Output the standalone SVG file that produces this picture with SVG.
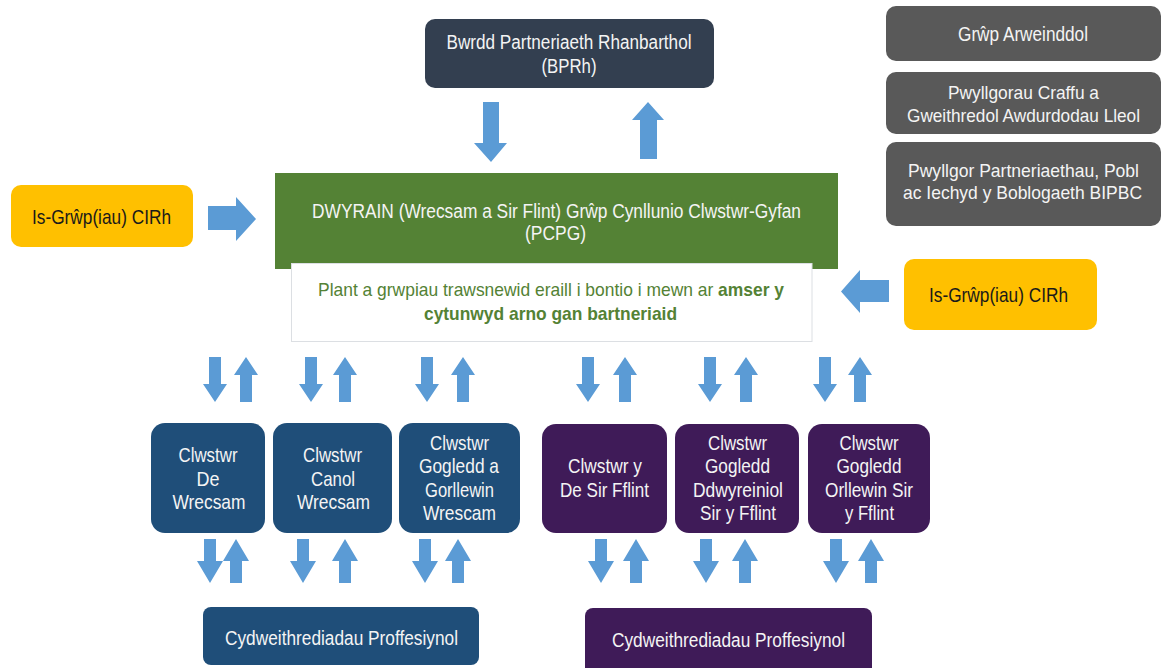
<svg xmlns="http://www.w3.org/2000/svg" xmlns:xlink="http://www.w3.org/1999/xlink" width="1169" height="668" viewBox="0 0 1169 668">
<style>
text{font-family:"Liberation Sans Narrow","Liberation Sans",Arial,sans-serif;text-anchor:middle}
.w{fill:#f4f4f4;font-size:20px}
.s{fill:#f4f4f4;font-size:18.5px}
.c{fill:#f4f4f4;font-size:21px}
.y{fill:#1a1a1a;font-size:21px}
.g{fill:#548235;font-size:19px}
.b{font-weight:bold}
.arrow{fill:#5b9bd5}
.navy{fill:#333f50}
.gray{fill:#595959}
.yel{fill:#ffc000}
.blue{fill:#1f4e79}
.purp{fill:#3f1b58}
</style>
<defs>
<path id="dn" d="M6,0H18V27H24L12,45L0,27H6Z"/>
<path id="up" d="M12,0L24,18H18V45H6V18H0Z"/>
<path id="dn2" d="M7,0H19V22H26L13,44L0,22H7Z"/>
<path id="up2" d="M13,0L26,22H19V44H7V22H0Z"/>
</defs>
<rect width="1169" height="668" fill="#ffffff"/>

<g id="connectors" class="arrow">
<path d="M483,102H499V143H507L491,162L474,143H483Z"/>
<path d="M648,102L664,120H657V159H640V120H632Z"/>
<path d="M208,206H236V197L256,219L236,241V230H208Z"/>
<path d="M889,280H860V270L841,291.5L860,313V302H889Z"/>
<use xlink:href="#dn" x="203" y="357"/><use xlink:href="#up" x="234" y="357"/>
<use xlink:href="#dn" x="299" y="357"/><use xlink:href="#up" x="333" y="357"/>
<use xlink:href="#dn" x="415" y="357"/><use xlink:href="#up" x="451" y="357"/>
<use xlink:href="#dn" x="576" y="357"/><use xlink:href="#up" x="613" y="357"/>
<use xlink:href="#dn" x="698" y="357"/><use xlink:href="#up" x="734" y="357"/>
<use xlink:href="#dn" x="813" y="357"/><use xlink:href="#up" x="848" y="357"/>
<use xlink:href="#dn2" x="197" y="539"/><use xlink:href="#up2" x="223" y="539"/>
<use xlink:href="#dn2" x="290" y="539"/><use xlink:href="#up2" x="332" y="539"/>
<use xlink:href="#dn2" x="412" y="539"/><use xlink:href="#up2" x="445" y="539"/>
<use xlink:href="#dn2" x="588" y="539"/><use xlink:href="#up2" x="623" y="539"/>
<use xlink:href="#dn2" x="693" y="539"/><use xlink:href="#up2" x="732" y="539"/>
<use xlink:href="#dn2" x="823" y="539"/><use xlink:href="#up2" x="858" y="539"/>
</g>

<g id="bprh">
<rect class="navy" x="425" y="19" width="289" height="69" rx="10"/>
<text class="w" x="569" y="49" textLength="245" lengthAdjust="spacingAndGlyphs">Bwrdd Partneriaeth Rhanbarthol</text>
<text class="w" x="569" y="73" textLength="55" lengthAdjust="spacingAndGlyphs">(BPRh)</text>
</g>

<g id="grwp-arweinddol">
<rect class="gray" x="886" y="6" width="275" height="55" rx="10"/>
<text class="w" x="1023" y="41" textLength="130" lengthAdjust="spacingAndGlyphs">Grŵp Arweinddol</text>
</g>
<g id="pwyllgorau-craffu">
<rect class="gray" x="886" y="72" width="275" height="62" rx="10"/>
<text class="s" x="1023.5" y="99" textLength="151" lengthAdjust="spacingAndGlyphs">Pwyllgorau Craffu a</text>
<text class="s" x="1023.5" y="122" textLength="233" lengthAdjust="spacingAndGlyphs">Gweithredol Awdurdodau Lleol</text>
</g>
<g id="pwyllgor-partneriaethau">
<rect class="gray" x="886" y="142" width="275" height="84" rx="10"/>
<text class="s" x="1023.5" y="177" textLength="231" lengthAdjust="spacingAndGlyphs">Pwyllgor Partneriaethau, Pobl</text>
<text class="s" x="1022.5" y="199" textLength="239" lengthAdjust="spacingAndGlyphs">ac Iechyd y Boblogaeth BIPBC</text>
</g>

<g id="is-grwp-left">
<rect class="yel" x="11" y="185" width="182" height="62" rx="10"/>
<text class="y" x="101.5" y="224" textLength="139" lengthAdjust="spacingAndGlyphs">Is-Grŵp(iau) CIRh</text>
</g>
<g id="is-grwp-right">
<rect class="yel" x="904" y="259" width="193" height="71" rx="10"/>
<text class="y" x="998.5" y="302" textLength="139" lengthAdjust="spacingAndGlyphs">Is-Grŵp(iau) CIRh</text>
</g>

<g id="pcpg">
<rect fill="#548235" x="275" y="173" width="563" height="96"/>
<text class="w" x="556.5" y="218" textLength="489" lengthAdjust="spacingAndGlyphs">DWYRAIN (Wrecsam a Sir Flint) Grŵp Cynllunio Clwstwr-Gyfan</text>
<text class="w" x="555.5" y="240" textLength="61" lengthAdjust="spacingAndGlyphs">(PCPG)</text>
</g>
<g id="plant">
<rect fill="#ffffff" stroke="#dcdfe3" stroke-width="1" x="291.5" y="263.5" width="520.5" height="78"/>
<text class="g" x="551" y="296" textLength="466" lengthAdjust="spacingAndGlyphs">Plant a grwpiau trawsnewid eraill i bontio i mewn ar <tspan class="b">amser y</tspan></text>
<text class="g b" x="550.5" y="320" textLength="253" lengthAdjust="spacingAndGlyphs">cytunwyd arno gan bartneriaid</text>
</g>

<g id="de-wrecsam">
<rect class="blue" x="151" y="423" width="114" height="110" rx="14"/>
<text class="c" x="208" y="462" textLength="59" lengthAdjust="spacingAndGlyphs">Clwstwr</text>
<text class="c" x="208" y="486" textLength="23" lengthAdjust="spacingAndGlyphs">De</text>
<text class="c" x="209" y="509" textLength="73" lengthAdjust="spacingAndGlyphs">Wrecsam</text>
</g>
<g id="canol-wrecsam">
<rect class="blue" x="273" y="423" width="119" height="110" rx="14"/>
<text class="c" x="332.5" y="462" textLength="59" lengthAdjust="spacingAndGlyphs">Clwstwr</text>
<text class="c" x="333" y="486" textLength="44" lengthAdjust="spacingAndGlyphs">Canol</text>
<text class="c" x="333.5" y="509" textLength="73" lengthAdjust="spacingAndGlyphs">Wrecsam</text>
</g>
<g id="gogledd-gorllewin-wrecsam">
<rect class="blue" x="399" y="423" width="121" height="110" rx="14"/>
<text class="c" x="459.5" y="450" textLength="59" lengthAdjust="spacingAndGlyphs">Clwstwr</text>
<text class="c" x="459" y="473" textLength="80" lengthAdjust="spacingAndGlyphs">Gogledd a</text>
<text class="c" x="459.5" y="497" textLength="69" lengthAdjust="spacingAndGlyphs">Gorllewin</text>
<text class="c" x="459.5" y="520" textLength="73" lengthAdjust="spacingAndGlyphs">Wrescam</text>
</g>
<g id="de-sir-fflint">
<rect class="purp" x="542" y="424" width="125" height="109" rx="14"/>
<text class="c" x="605" y="473" textLength="74" lengthAdjust="spacingAndGlyphs">Clwstwr y</text>
<text class="c" x="604.5" y="497" textLength="89" lengthAdjust="spacingAndGlyphs">De Sir Fflint</text>
</g>
<g id="gogledd-ddwyreiniol">
<rect class="purp" x="675" y="424" width="124" height="109" rx="14"/>
<text class="c" x="737.5" y="450" textLength="59" lengthAdjust="spacingAndGlyphs">Clwstwr</text>
<text class="c" x="737.5" y="473" textLength="65" lengthAdjust="spacingAndGlyphs">Gogledd</text>
<text class="c" x="738" y="497" textLength="90" lengthAdjust="spacingAndGlyphs">Ddwyreiniol</text>
<text class="c" x="738" y="520" textLength="76" lengthAdjust="spacingAndGlyphs">Sir y Fflint</text>
</g>
<g id="gogledd-orllewin">
<rect class="purp" x="808" y="424" width="122" height="109" rx="14"/>
<text class="c" x="869" y="450" textLength="59" lengthAdjust="spacingAndGlyphs">Clwstwr</text>
<text class="c" x="869" y="473" textLength="65" lengthAdjust="spacingAndGlyphs">Gogledd</text>
<text class="c" x="869" y="497" textLength="88" lengthAdjust="spacingAndGlyphs">Orllewin Sir</text>
<text class="c" x="869.5" y="520" textLength="49" lengthAdjust="spacingAndGlyphs">y Fflint</text>
</g>

<g id="cydweithrediadau-wrecsam">
<rect class="blue" x="203" y="607" width="276" height="58" rx="8"/>
<text class="w" x="341.5" y="645" textLength="233" lengthAdjust="spacingAndGlyphs">Cydweithrediadau Proffesiynol</text>
</g>
<g id="cydweithrediadau-fflint">
<rect class="purp" x="585" y="608" width="287" height="68" rx="8"/>
<text class="w" x="728.5" y="647" textLength="233" lengthAdjust="spacingAndGlyphs">Cydweithrediadau Proffesiynol</text>
</g>
</svg>
